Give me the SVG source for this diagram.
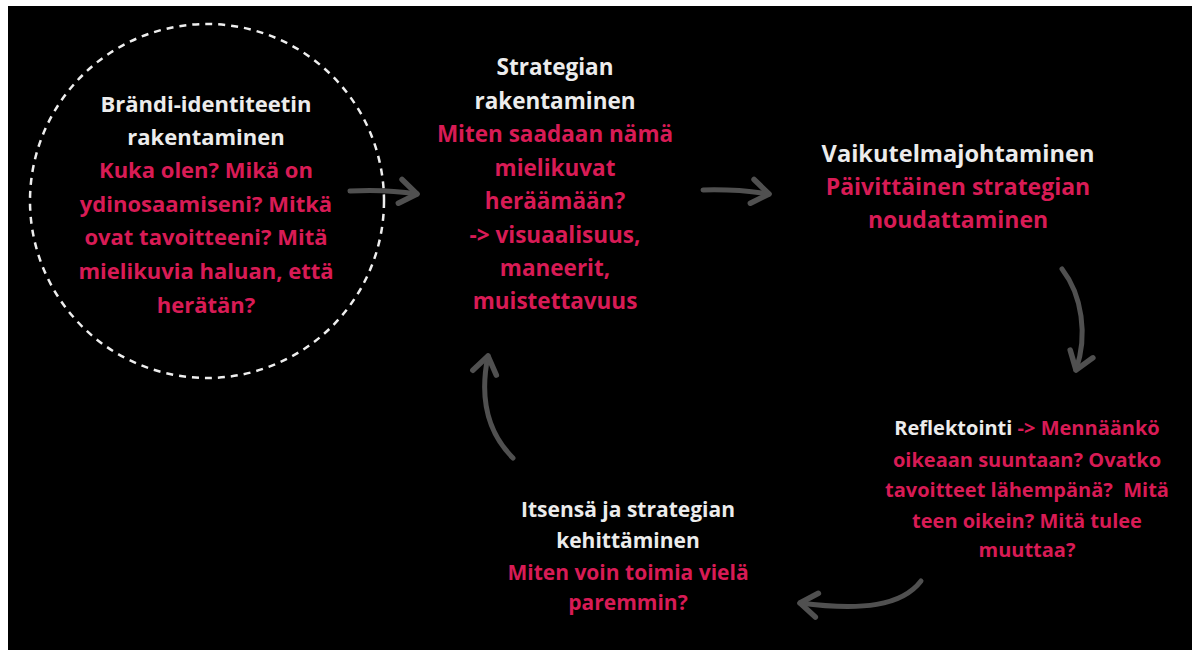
<svg xmlns="http://www.w3.org/2000/svg" width="1197" height="652" viewBox="0 0 1197 652">
<defs>
<style>
text{font-family:"Open Sans","Liberation Sans",sans-serif;font-weight:700;text-anchor:middle;font-size:22px}
.w{fill:#ececec}
.p{fill:#d81b55}
#strategy text{font-size:22.5px}
#impression text{font-size:23px}
#impression .big{font-size:23.6px}
#reflection text{font-size:20px}
#development text{font-size:21px}
.arr{fill:none;stroke:#505050;stroke-width:5;stroke-linecap:round;marker-end:url(#head)}
</style>
<marker id="head" markerUnits="userSpaceOnUse" markerWidth="40" markerHeight="40" viewBox="-30 -20 40 40" refX="0" refY="0" orient="auto">
<path d="M-17,-12 L0,0 L-17,12" fill="none" stroke="#505050" stroke-width="5.5" stroke-linecap="round" stroke-linejoin="round"/>
</marker>
</defs>
<rect x="0" y="0" width="1197" height="652" fill="#ffffff"/>
<rect x="8" y="6" width="1184" height="644" fill="#000000"/>

<g id="brand">
<circle cx="207" cy="201" r="177" fill="none" stroke="#eeeeee" stroke-width="2.5" stroke-dasharray="7 6"/>
<text x="206" y="112" class="w">Brändi-identiteetin</text>
<text x="206" y="145" class="w">rakentaminen</text>
<text x="206" y="178" class="p">Kuka olen? Mikä on</text>
<text x="206" y="212" class="p">ydinosaamiseni? Mitkä</text>
<text x="206" y="245" class="p">ovat tavoitteeni? Mitä</text>
<text x="206" y="279" class="p">mielikuvia haluan, että</text>
<text x="206" y="313" class="p">herätän?</text>
</g>

<g id="strategy">
<text x="555" y="75" class="w">Strategian</text>
<text x="555" y="109" class="w">rakentaminen</text>
<text x="555" y="142" class="p">Miten saadaan nämä</text>
<text x="555" y="176" class="p">mielikuvat</text>
<text x="555" y="209" class="p">heräämään?</text>
<text x="555" y="243" class="p">-&gt; visuaalisuus,</text>
<text x="555" y="276" class="p">maneerit,</text>
<text x="555" y="309" class="p">muistettavuus</text>
</g>

<g id="impression">
<text x="958" y="162" class="w big">Vaikutelmajohtaminen</text>
<text x="958" y="195" class="p">Päivittäinen strategian</text>
<text x="958" y="228" class="p">noudattaminen</text>
</g>

<g id="reflection">
<text x="1027" y="435"><tspan class="w">Reflektointi</tspan><tspan class="p"> -&gt; Mennäänkö</tspan></text>
<text x="1027" y="467" class="p">oikeaan suuntaan? Ovatko</text>
<text x="1027" y="497" class="p" xml:space="preserve">tavoitteet lähempänä?  Mitä</text>
<text x="1027" y="528" class="p">teen oikein? Mitä tulee</text>
<text x="1027" y="557" class="p">muuttaa?</text>
</g>

<g id="development">
<text x="628" y="517" class="w">Itsensä ja strategian</text>
<text x="628" y="548" class="w">kehittäminen</text>
<text x="628" y="580" class="p">Miten voin toimia vielä</text>
<text x="628" y="610" class="p">paremmin?</text>
</g>

<g id="connectors">
<path class="arr" d="M350,191 Q385,189 417,194"/>
<path class="arr" d="M703,190 Q737,189 769,194"/>
<path class="arr" d="M1062,269 C1082,295 1088,335 1076,370"/>
<path class="arr" d="M921,581 C902,606 862,611 800,603"/>
<path class="arr" d="M513,458 C485,430 480,395 488,356"/>
</g>
</svg>
